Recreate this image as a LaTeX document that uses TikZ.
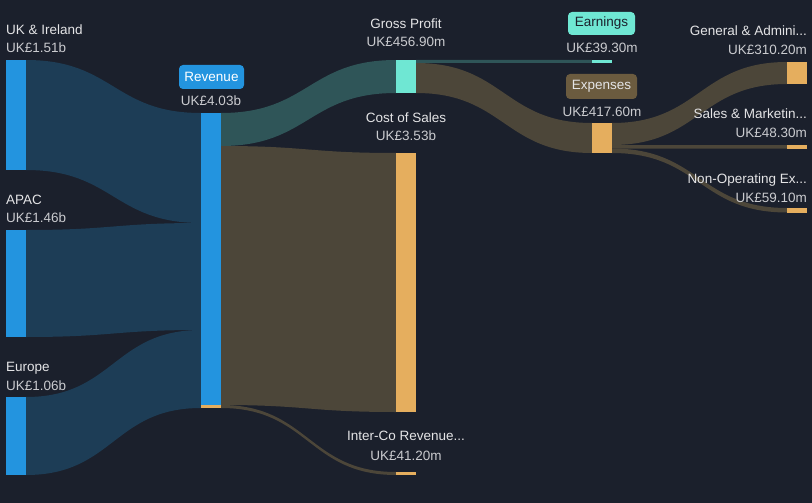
\documentclass[tikz,border=0pt]{standalone}
\usepackage{fontspec}
\setmainfont{Liberation Sans}
\usetikzlibrary{calc}
\definecolor{bgc}{HTML}{1B202C}
\definecolor{barblue}{HTML}{2394DF}
\definecolor{barteal}{HTML}{6FE7D3}
\definecolor{barorange}{HTML}{E5AE5E}
\definecolor{flowblue}{HTML}{1D3D56}
\definecolor{flowteal}{HTML}{2F5558}
\definecolor{flowbrown}{HTML}{4C4639}
\definecolor{tagbrown}{HTML}{6B5B3F}
\definecolor{labc}{HTML}{E4E4E6}
\definecolor{valc}{HTML}{CACBCF}
\pgfdeclarelayer{bglayer}
\pgfdeclarelayer{flows}
\pgfsetlayers{bglayer,flows,main}
\newcommand\band[6]{%
  \begin{pgfonlayer}{flows}
  \path ([yshift={-(#2)*1pt}]#1.north east) coordinate (A1)
        ([yshift={-(#2+#5)*1pt}]#1.north east) coordinate (A2)
        ([yshift={-(#4)*1pt}]#3.north west) coordinate (B1)
        ([yshift={-(#4+#5)*1pt}]#3.north west) coordinate (B2)
        ($(A1)!0.5!(B1)$) coordinate (M);
  \fill[#6] (A1) .. controls (M|-A1) and (M|-B1) .. (B1) -- (B2)
        .. controls (M|-B2) and (M|-A2) .. (A2) -- cycle;
  \end{pgfonlayer}}
\tikzset{
  bar/.style={rectangle, inner sep=0pt, outer sep=0pt, minimum width=20pt, draw=none},
  lab/.style={inner sep=0pt, text=labc, font=\fontsize{13.5}{16}\selectfont},
  val/.style={inner sep=0pt, text=valc, font=\fontsize{13.5}{16}\selectfont},
  tag/.style={rectangle, rounded corners=4pt, inner sep=0pt, minimum height=24pt, font=\fontsize{13.5}{16}\selectfont}
}
\begin{document}
\begin{tikzpicture}[x=1pt,y=-1pt]
\begin{pgfonlayer}{bglayer}
\fill[bgc] (0,0) rectangle (812,503);
\end{pgfonlayer}
\useasboundingbox (0,0) rectangle (812,503);
% bars
\node[bar, fill=barblue, minimum height=110pt] (uk) at (16,115) {};
\node[bar, fill=barblue, minimum height=107pt] (apac) at (16,283.5) {};
\node[bar, fill=barblue, minimum height=78pt] (europe) at (16,436) {};
\node[bar, fill=barblue, minimum height=295pt] (rev) at (211,260.5) {};
\node[bar, fill=barteal, minimum height=33pt] (gp) at (406,76.5) {};
\node[bar, fill=barorange, minimum height=259pt] (cos) at (406,282.5) {};
\node[bar, fill=barorange, minimum height=3pt] (interco) at (406,473.5) {};
\node[bar, fill=barteal, minimum height=3pt] (earn) at (602,61.5) {};
\node[bar, fill=barorange, minimum height=30pt] (exp) at (602,138) {};
\node[bar, fill=barorange, minimum height=22pt] (ga) at (797,73) {};
\node[bar, fill=barorange, minimum height=3.5pt] (sm) at (797,146.75) {};
\node[bar, fill=barorange, minimum height=4.5pt] (nonop) at (797,210.25) {};
\fill[barorange] ([yshift=3pt]rev.south west) rectangle (rev.south east);
% flows
\band{uk}{0}{rev}{0}{110}{flowblue}
\band{apac}{0}{rev}{110}{107}{flowblue}
\band{europe}{0}{rev}{217}{78}{flowblue}
\band{rev}{0}{gp}{0}{33}{flowteal}
\band{rev}{33}{cos}{0}{259}{flowbrown}
\band{rev}{292}{interco}{0}{3}{flowbrown}
\band{gp}{0}{earn}{0}{3}{flowteal}
\band{gp}{3}{exp}{0}{30}{flowbrown}
\band{exp}{0}{ga}{0}{22}{flowbrown}
\band{exp}{22}{sm}{0}{3.5}{flowbrown}
\band{exp}{25.5}{nonop}{0}{4.5}{flowbrown}
% labels left
\node[lab, anchor=base west] (ukl) at (6,34.5) {UK \& Ireland};
\node[val, anchor=base west] (ukv) at (6,53) {UK£1.51b};
\node[lab, anchor=base west] (apacl) at (6,204) {APAC};
\node[val, anchor=base west] (apacv) at (6,222.5) {UK£1.46b};
\node[lab, anchor=base west] (eul) at (6,371.5) {Europe};
\node[val, anchor=base west] (euv) at (6,390) {UK£1.06b};
% middle
\node[tag, fill=barblue, text=white, minimum width=65pt] (revl) at (211.5,77) {Revenue};
\node[val, anchor=base] (revv) at (211,106) {UK£4.03b};
\node[lab, anchor=base] (gpl) at (406,29) {Gross Profit};
\node[val, anchor=base] (gpv) at (406,47) {UK£456.90m};
\node[lab, anchor=base] (cosl) at (406,122) {Cost of Sales};
\node[val, anchor=base] (cosv) at (406,140) {UK£3.53b};
\node[lab, anchor=base] (icl) at (406,440.5) {Inter-Co Revenue...};
\node[val, anchor=base] (icv) at (406,460) {UK£41.20m};
\node[tag, fill=barteal, text=bgc, minimum width=67pt, minimum height=23pt] (earnl) at (601.5,23.5) {Earnings};
\node[val, anchor=base] (earnv) at (602,53) {UK£39.30m};
\node[tag, fill=tagbrown, text=labc, minimum width=71pt, minimum height=25pt] (expl) at (601.5,86.5) {Expenses};
\node[val, anchor=base] (expv) at (602,117) {UK£417.60m};
% right
\node[lab, anchor=base east] (gal) at (807,36) {General \& Admini...};
\node[val, anchor=base east] (gav) at (807,55) {UK£310.20m};
\node[lab, anchor=base east] (sml) at (807,118) {Sales \& Marketin...};
\node[val, anchor=base east] (smv) at (807,138) {UK£48.30m};
\node[lab, anchor=base east] (nol) at (807,183) {Non-Operating Ex...};
\node[val, anchor=base east] (nov) at (807,202) {UK£59.10m};
\end{tikzpicture}
\end{document}
